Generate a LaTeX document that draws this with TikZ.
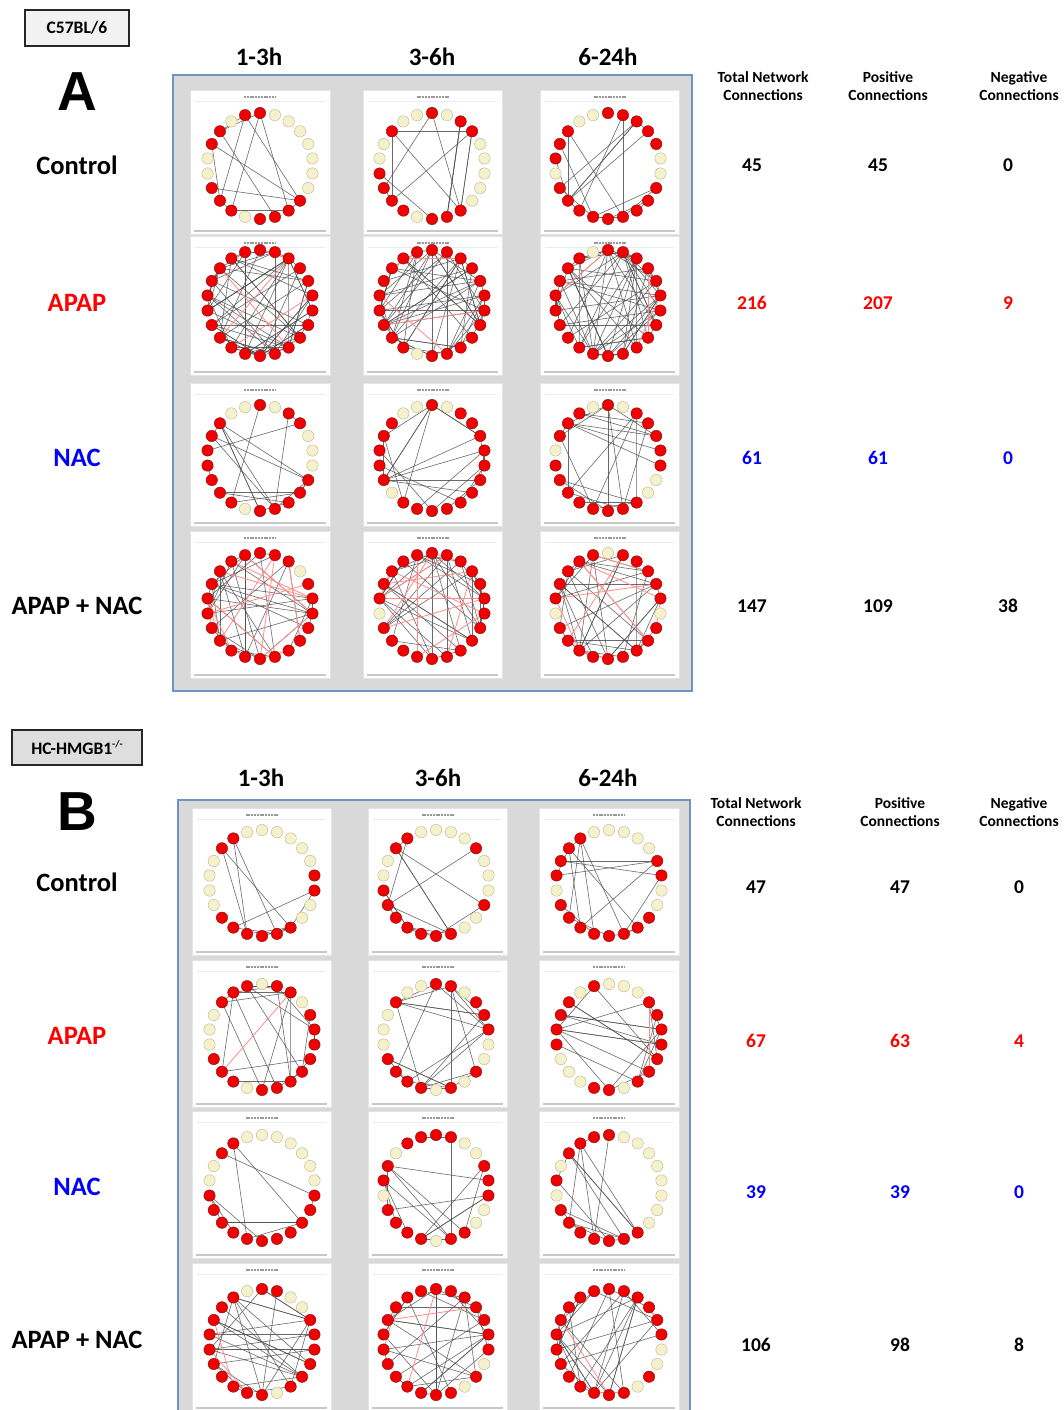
\documentclass[tikz,border=0pt]{standalone}
\usepackage{fontspec}
\setmainfont{Carlito}
\newfontfamily\letterfont{Liberation Sans}
\usetikzlibrary{calc}

\definecolor{panelgrey}{HTML}{D9D9D9}
\definecolor{framebl}{HTML}{6F93C2}
\definecolor{pageedge}{HTML}{E4E4E4}
\definecolor{nodered}{HTML}{F00000}
\definecolor{nodeedge}{HTML}{7A1010}
\definecolor{nodecream}{HTML}{F4F1CC}
\definecolor{creamedge}{HTML}{BDB68A}
\definecolor{edgegrey}{HTML}{505050}
\definecolor{edgepink}{HTML}{FF8C8C}
\definecolor{apapred}{HTML}{FF0000}
\definecolor{nacblue}{HTML}{0000FF}
\definecolor{boxA}{HTML}{F2F2F2}
\definecolor{boxB}{HTML}{DEDEDE}

\newcount\nredc

% one exported network page: white sheet, caption stroke, rules
\newcommand\thumbpage[4]{%
  \path[sheet] (#1,#2) rectangle (#3,#4);
  \draw[captionbar] ({(#1+#3)/2-16},{#2+7}) -- ++(32,0);
  \draw[caprule] ({#1+5},{#2+11}) -- ({#3-5},{#2+11});
  \draw[footrule] ({#1+4},{#4-3}) -- ({#3-4},{#4-3});
}

% circular network: #1 id, #2 cx, #3 cy, #4 node states (1 red, 0 cream),
% #5 positive edges, #6 negative edges, #7 seed
\newcommand\netw[7]{%
  \global\nredc=0
  \foreach \c [count=\k from 0] in {#4}{%
    \coordinate (#1-\k) at ({#2+53*cos(-90+\k*360/22)},{#3+53*sin(-90+\k*360/22)});
    \ifnum\c=1 \global\advance\nredc by 1
      \expandafter\xdef\csname rd#1-\the\nredc\endcsname{\k}\fi
  }
  \pgfmathsetseed{#7}
  \foreach \e in {1,...,#5}{%
    \pgfmathtruncatemacro\pa{random(1,\the\nredc)}%
    \pgfmathtruncatemacro\pb{random(1,\the\nredc)}%
    \ifnum\pa=\pb\else
      \edef\na{\csname rd#1-\pa\endcsname}\edef\nb{\csname rd#1-\pb\endcsname}%
      \draw[posedge] (#1-\na) -- (#1-\nb);
    \fi
  }
  \ifnum#6>0
  \foreach \e in {1,...,#6}{%
    \pgfmathtruncatemacro\pa{random(1,\the\nredc)}%
    \pgfmathtruncatemacro\pb{random(1,\the\nredc)}%
    \ifnum\pa=\pb\else
      \edef\na{\csname rd#1-\pa\endcsname}\edef\nb{\csname rd#1-\pb\endcsname}%
      \draw[negedge] (#1-\na) -- (#1-\nb);
    \fi
  }
  \fi
  \foreach \c [count=\k from 0] in {#4}{%
    \ifnum\c=1 \node[rnode] (#1-n\k) at (#1-\k) {};
    \else \node[ynode] (#1-n\k) at (#1-\k) {};\fi
  }
}

\begin{document}
\begin{tikzpicture}[x=1pt,y=-1pt,
  sheet/.style={fill=white, draw=pageedge, line width=0.5pt},
  captionbar/.style={draw=black!40, line width=1.1pt, dash pattern=on 2pt off 0.8pt},
  caprule/.style={draw=black!8, line width=0.5pt},
  footrule/.style={draw=black!22, line width=1.6pt},
  frame/.style={fill=panelgrey, draw=framebl, line width=1.4pt},
  rnode/.style={circle, fill=nodered, draw=nodeedge, line width=0.4pt, minimum size=11.4pt, inner sep=0pt},
  ynode/.style={circle, fill=nodecream, draw=creamedge, line width=0.4pt, minimum size=11.4pt, inner sep=0pt},
  posedge/.style={draw=edgegrey, line width=0.6pt, opacity=0.85},
  negedge/.style={draw=edgepink, line width=0.8pt},
  colhead/.style={font=\bfseries\fontsize{25}{28}\selectfont, inner sep=0pt},
  rowlab/.style={font=\bfseries\fontsize{26.5}{30}\selectfont, inner sep=0pt},
  tabhead/.style={font=\bfseries\fontsize{15.5}{18}\selectfont, align=center, inner sep=0pt},
  num/.style={font=\bfseries\fontsize{19.5}{22}\selectfont, inner sep=0pt},
  geno/.style={draw=black!85, line width=1.3pt, font=\bfseries\fontsize{17.5}{20}\selectfont, inner sep=0pt},
  bigletter/.style={font=\letterfont\bfseries\fontsize{55}{60}\selectfont, inner sep=0pt}]
\useasboundingbox[fill=white] (0,0) rectangle (1063,1410);

% ---------------- panel A : C57BL/6 ----------------
\node[geno, fill=boxA, minimum width=104pt, minimum height=36pt] (genoA) at (77,28) {C57BL/6};
\node[bigletter] (letA) at (77,92) {A};
\node[colhead] (a-h1) at (259,57) {1-3h};
\node[colhead] (a-h2) at (432,57) {3-6h};
\node[colhead] (a-h3) at (608,57) {6-24h};

\path[frame] (173,75) rectangle (692,691);
\foreach \xa/\xb in {190/330,363/502,540/679}{
  \foreach \ya/\yb in {90/234,236/375,383/526,531/678}{
    \thumbpage{\xa}{\ya}{\xb}{\yb}
  }
}

\netw{a11}{260}{166}{1,0,0,0,0,0,0,0,1,1,1,1,0,1,1,1,0,0,1,1,0,1}{15}{0}{11}
\netw{a12}{432}{166}{1,0,1,1,0,0,0,0,0,1,1,1,0,1,1,1,1,0,0,1,0,0}{14}{0}{12}
\netw{a13}{608}{166}{1,1,1,1,1,0,0,1,1,1,1,1,1,1,1,1,0,1,1,1,0,0}{19}{0}{13}

\netw{a21}{260}{303}{1,1,1,1,1,1,1,1,1,1,1,1,1,1,1,1,1,1,1,1,1,1}{72}{4}{21}
\netw{a22}{432}{303}{1,1,1,1,1,1,1,1,1,1,1,1,0,1,1,1,1,1,1,1,1,1}{66}{4}{22}
\netw{a23}{608}{303}{1,1,1,1,1,1,1,1,1,1,1,1,1,1,1,1,1,1,1,1,1,0}{76}{3}{23}

\netw{a31}{260}{458}{1,0,1,1,0,0,0,1,1,1,1,1,0,1,1,1,1,1,1,1,0,0}{19}{0}{31}
\netw{a32}{432}{458}{1,0,1,1,1,1,1,1,1,1,1,1,1,1,0,1,1,1,1,1,0,0}{23}{0}{32}
\netw{a33}{608}{458}{1,0,1,1,1,1,1,0,0,1,1,1,1,1,1,1,1,0,1,1,1,0}{22}{0}{33}

\netw{a41}{260}{606}{1,1,1,0,1,1,1,1,1,1,1,1,1,1,1,1,1,1,1,1,1,1}{38}{14}{41}
\netw{a42}{432}{606}{1,1,1,1,1,1,1,1,1,1,1,1,1,1,1,1,0,1,1,1,1,1}{40}{12}{42}
\netw{a43}{608}{606}{0,1,1,1,1,1,0,1,1,1,1,1,1,1,1,1,0,1,1,1,1,1}{38}{14}{43}

\node[rowlab] (a-r1) at (77,165) {Control};
\node[rowlab, text=apapred] (a-r2) at (77,303) {APAP};
\node[rowlab, text=nacblue] (a-r3) at (77,458) {NAC};
\node[rowlab] (a-r4) at (77,606) {APAP + NAC};

\node[tabhead] (a-t1) at (763,86) {Total Network\\Connections};
\node[tabhead] (a-t2) at (888,86) {Positive\\Connections};
\node[tabhead] (a-t3) at (1019,86) {Negative\\Connections};

\node[num] (a-c11) at (752,165) {45};
\node[num] (a-c12) at (878,165) {45};
\node[num] (a-c13) at (1008,165) {0};
\node[num, text=apapred] (a-c21) at (752,303) {216};
\node[num, text=apapred] (a-c22) at (878,303) {207};
\node[num, text=apapred] (a-c23) at (1008,303) {9};
\node[num, text=nacblue] (a-c31) at (752,458) {61};
\node[num, text=nacblue] (a-c32) at (878,458) {61};
\node[num, text=nacblue] (a-c33) at (1008,458) {0};
\node[num] (a-c41) at (752,606) {147};
\node[num] (a-c42) at (878,606) {109};
\node[num] (a-c43) at (1008,606) {38};

% ---------------- panel B : HC-HMGB1 -/- ----------------
\node[geno, fill=boxB, minimum width=130pt, minimum height=35pt] (genoB) at (77,747.5)
  {HC-HMGB1\raisebox{0.45em}{\fontsize{10}{10}\selectfont -/-}};
\node[bigletter] (letB) at (77,812) {B};
\node[colhead] (b-h1) at (261,778) {1-3h};
\node[colhead] (b-h2) at (438,778) {3-6h};
\node[colhead] (b-h3) at (608,778) {6-24h};

\path[frame] (178,800) rectangle (690,1416);
\foreach \xa/\xb in {192/331,368/507,539/679}{
  \foreach \ya/\yb in {808/955,960/1107,1111/1258,1263/1411}{
    \thumbpage{\xa}{\ya}{\xb}{\yb}
  }
}

\netw{b11}{262}{883}{0,0,0,0,0,1,1,0,0,1,1,1,1,1,1,0,0,0,0,1,1,0}{13}{0}{51}
\netw{b12}{436}{883}{0,0,0,1,0,0,0,1,0,0,1,1,1,1,1,1,1,0,0,1,1,0}{18}{0}{52}
\netw{b13}{609}{883}{0,0,0,0,1,1,0,0,1,1,1,1,1,1,1,1,0,1,1,1,1,0}{19}{0}{53}

\netw{b21}{262}{1037}{0,1,1,0,1,1,1,1,1,1,1,1,0,1,1,1,0,0,0,1,1,1}{22}{2}{61}
\netw{b22}{436}{1037}{1,1,0,1,1,1,0,0,1,0,1,0,1,1,1,1,0,0,0,1,0,0}{23}{0}{62}
\netw{b23}{609}{1037}{0,0,0,1,1,1,1,1,1,1,0,1,1,0,0,0,1,1,1,1,0,1}{21}{2}{63}

\netw{b31}{262}{1188}{0,0,0,0,0,0,1,1,1,1,1,1,1,1,1,1,1,0,0,1,1,0}{11}{0}{71}
\netw{b32}{436}{1188}{1,1,0,0,1,1,1,0,0,1,1,0,1,1,1,1,0,1,1,0,1,1}{16}{0}{72}
\netw{b33}{609}{1188}{1,0,0,0,0,0,0,0,0,1,1,1,1,1,1,1,0,1,0,1,1,1}{15}{0}{73}

\netw{b41}{262}{1342}{1,1,0,0,1,1,1,1,1,1,0,1,1,1,1,1,1,1,1,1,1,0}{34}{2}{81}
\netw{b42}{436}{1342}{1,1,1,1,1,1,1,0,1,0,1,1,1,1,1,1,1,1,1,1,1,1}{35}{3}{82}
\netw{b43}{609}{1342}{1,1,1,1,1,1,0,0,1,0,1,1,1,1,1,1,1,1,1,1,1,1}{34}{3}{83}

\node[rowlab] (b-r1) at (77,882) {Control};
\node[rowlab, text=apapred] (b-r2) at (77,1036) {APAP};
\node[rowlab, text=nacblue] (b-r3) at (77,1187) {NAC};
\node[rowlab] (b-r4) at (77,1340) {APAP + NAC};

\node[tabhead] (b-t1) at (756,812) {Total Network\\Connections};
\node[tabhead] (b-t2) at (900,812) {Positive\\Connections};
\node[tabhead] (b-t3) at (1019,812) {Negative\\Connections};

\node[num] (b-c11) at (756,887) {47};
\node[num] (b-c12) at (900,887) {47};
\node[num] (b-c13) at (1019,887) {0};
\node[num, text=apapred] (b-c21) at (756,1041) {67};
\node[num, text=apapred] (b-c22) at (900,1041) {63};
\node[num, text=apapred] (b-c23) at (1019,1041) {4};
\node[num, text=nacblue] (b-c31) at (756,1192) {39};
\node[num, text=nacblue] (b-c32) at (900,1192) {39};
\node[num, text=nacblue] (b-c33) at (1019,1192) {0};
\node[num] (b-c41) at (756,1345) {106};
\node[num] (b-c42) at (900,1345) {98};
\node[num] (b-c43) at (1019,1345) {8};
\end{tikzpicture}
\end{document}
